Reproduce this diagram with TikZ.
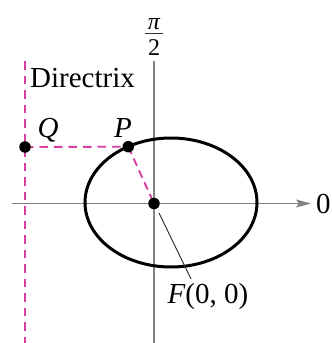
\documentclass[tikz,border=0pt]{standalone}
\usepackage{fontspec}
\setmainfont{Liberation Serif}
\usetikzlibrary{arrows.meta}
\definecolor{dirpink}{RGB}{214,64,160}
\definecolor{axisgray}{RGB}{130,130,130}
\begin{document}
\begin{tikzpicture}[x=1pt,y=-1pt,
  dot/.style={circle,fill=black,inner sep=0pt,minimum size=11.5pt},
  axisline/.style={draw=axisgray,line width=1.3pt},
  pinkdash/.style={draw=dirpink,line width=1.9pt,dash pattern=on 8.5pt off 6pt},
  curve/.style={draw=black,line width=3pt},
  leader/.style={draw=black!85,line width=0.9pt},
  lbl/.style={font=\fontsize{29}{32}\selectfont,inner sep=0pt},
  fraclbl/.style={font=\fontsize{24}{26}\selectfont,inner sep=0pt}]
\useasboundingbox (0,0) rectangle (332,343);
% axes
\coordinate (xl) at (12,203.5);
\coordinate (xr) at (311,203.5);
\coordinate (yt) at (154,61);
\coordinate (yb) at (154,343);
\draw[axisline,-{Stealth[length=15pt,width=8pt,inset=3pt]}] (xl) -- (xr);
\draw[axisline] (yt) -- (yb);
\node[lbl,anchor=west] (zero) at (316,203.5) {0};
% pi/2
\node[fraclbl,anchor=base] (pi) at (154,29.5) {\itshape π};
\coordinate (barl) at (145,33.5);
\coordinate (barr) at (163,33.5);
\draw[draw=black!80,line width=1.1pt] (barl) -- (barr);
\node[fraclbl,anchor=base] (two) at (154,55.5) {2};
% directrix
\coordinate (dt) at (25,61);
\coordinate (db) at (25,343);
\draw[pinkdash] (dt) -- (db);
\node[lbl,anchor=base west] (dirlbl) at (30,87) {Directrix};
% points
\coordinate (Fc) at (154,203.5);
\coordinate (Pc) at (128.3,146.7);
\coordinate (Qc) at (25,147);
\draw[pinkdash] (Qc) -- (Pc);
\draw[pinkdash,dash pattern=on 8pt off 5pt] (Pc) -- (Fc);
% ellipse
\draw[curve] (171,202.5) ellipse [x radius=86pt, y radius=64.5pt];
\node[dot] (F) at (Fc) {};
\node[dot] (P) at (Pc) {};
\node[dot] (Q) at (Qc) {};
\node[lbl,anchor=base] (Qlbl) at (48,137) {\itshape Q};
\node[lbl,anchor=base] (Plbl) at (123,137) {\itshape P};
\node[lbl,anchor=base] (Flbl) at (208,303) {\itshape F\upshape(0, 0)};
\coordinate (ls) at (159,213);
\coordinate (le) at (191,279);
\draw[leader] (ls) -- (le);
\end{tikzpicture}
\end{document}
